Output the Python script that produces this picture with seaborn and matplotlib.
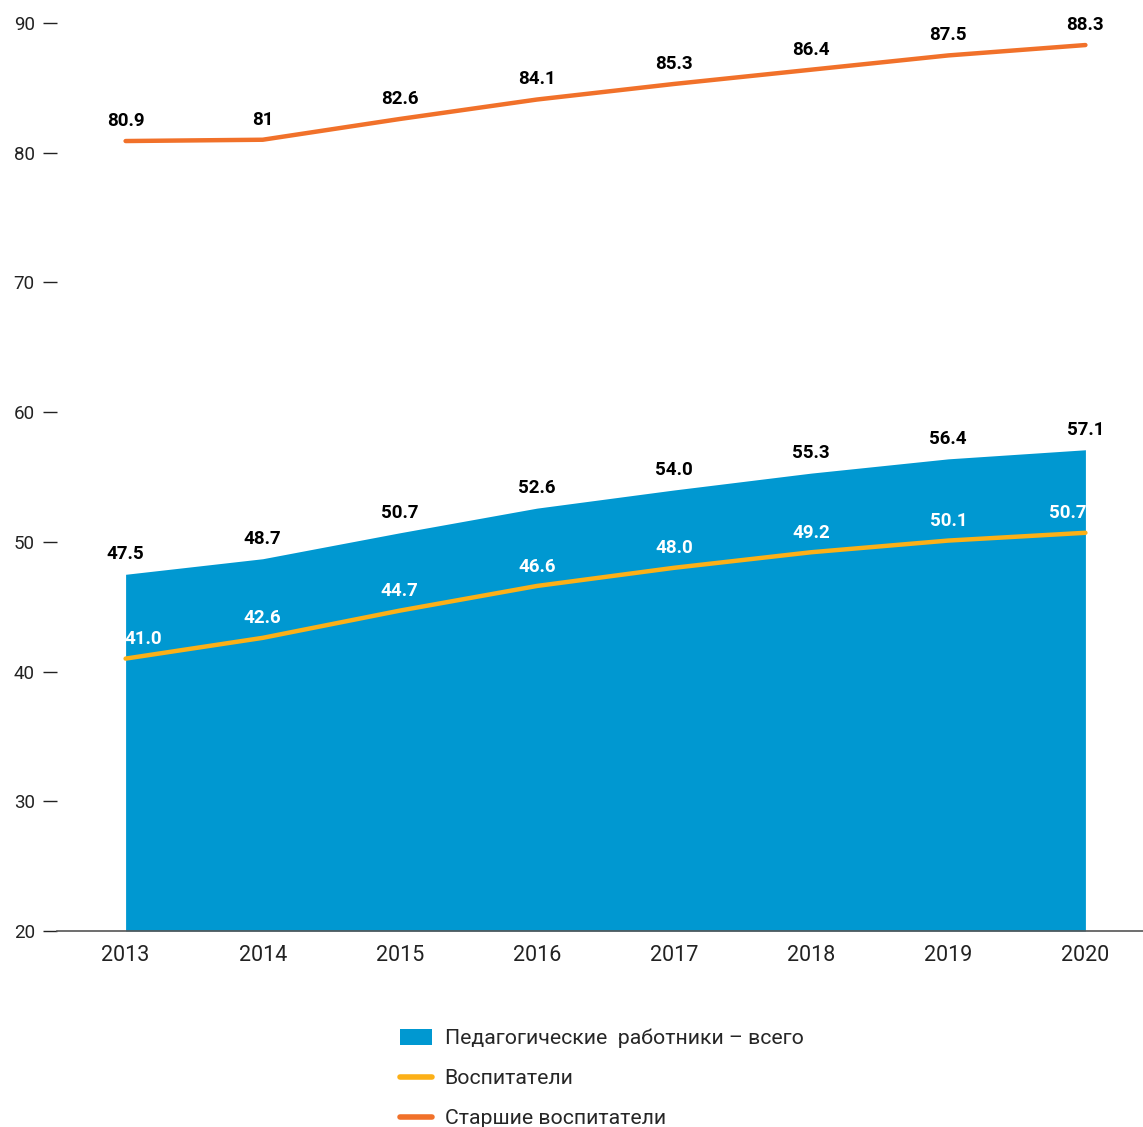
import matplotlib
matplotlib.use("Agg")
import matplotlib.pyplot as plt
import numpy as np
import pandas as pd
import seaborn as sns
from matplotlib.lines import Line2D
from matplotlib.patches import Patch

YEARS = [2013, 2014, 2015, 2016, 2017, 2018, 2019, 2020]
TOTAL = [47.5, 48.7, 50.7, 52.6, 54.0, 55.3, 56.4, 57.1]
EDUCATORS = [41.0, 42.6, 44.7, 46.6, 48.0, 49.2, 50.1, 50.7]
SENIOR = [80.9, 81.0, 82.6, 84.1, 85.3, 86.4, 87.5, 88.3]
SENIOR_LABELS = ["80.9", "81", "82.6", "84.1", "85.3", "86.4", "87.5", "88.3"]

LABEL_TOTAL = "Педагогические  работники – всего"
LABEL_EDU = "Воспитатели"
LABEL_SENIOR = "Старшие воспитатели"

BLUE = "#0098d1"
YELLOW = "#fcb017"
ORANGE = "#f1712a"

sns.set_style("white")
plt.rcParams["font.family"] = ["Roboto", "DejaVu Sans"]

df = pd.DataFrame({"year": YEARS, "total": TOTAL, "edu": EDUCATORS, "senior": SENIOR})

fig = plt.figure(figsize=(11.43, 11.27), dpi=100)
ax = fig.add_axes([0.0499, 0.1739, 0.9501, 0.8057])

ax.set_ylim(20, 90)
ax.set_xlim(2012.5, 2020.42)
floor = ax.get_ylim()[0]

ax.fill_between(df["year"], floor, df["total"], color=BLUE, lw=0, zorder=1)
sns.lineplot(data=df, x="year", y="edu", color=YELLOW, lw=3.2, ax=ax,
             solid_capstyle="round", zorder=3)
sns.lineplot(data=df, x="year", y="senior", color=ORANGE, lw=3.2, ax=ax,
             solid_capstyle="round", zorder=3)

# value labels
for x, v in zip(YEARS, TOTAL):
    ax.annotate(f"{v:.1f}", (x, v), xytext=(0, 8), textcoords="offset points",
                ha="center", va="bottom", fontsize=13.5, fontweight="bold", color="black")
for x, v, s in zip(YEARS, SENIOR, SENIOR_LABELS):
    ax.annotate(s, (x, v), xytext=(0, 8), textcoords="offset points",
                ha="center", va="bottom", fontsize=13.5, fontweight="bold", color="black")
for i, (x, v) in enumerate(zip(YEARS, EDUCATORS)):
    dx = 0
    if i == 0:
        dx = 13
    elif i == len(YEARS) - 1:
        dx = -13
    ax.annotate(f"{v:.1f}", (x, v), xytext=(dx, 7.5), textcoords="offset points",
                ha="center", va="bottom", fontsize=13.5, fontweight="bold", color="white",
                zorder=4)

ax.set_xticks(YEARS)
ax.set_xticklabels([str(y) for y in YEARS])
ax.set_yticks(np.arange(20, 91, 10))
ax.tick_params(axis="x", bottom=False, length=0, labelsize=15.5, pad=10,
               colors="#222222")
ax.tick_params(axis="y", left=True, length=10, width=1, direction="out", pad=6,
               labelsize=13.5, colors="#222222")
ax.set_xlabel("")
ax.set_ylabel("")
for side in ["top", "right", "left"]:
    ax.spines[side].set_visible(False)
ax.spines["bottom"].set_color("#555555")
ax.spines["bottom"].set_linewidth(1.2)
ax.spines["bottom"].set_zorder(5)

handles = [
    Patch(facecolor=BLUE, edgecolor="none"),
    Line2D([0], [0], color=YELLOW, lw=4, solid_capstyle="round"),
    Line2D([0], [0], color=ORANGE, lw=4, solid_capstyle="round"),
]
fig.legend(handles, [LABEL_TOTAL, LABEL_EDU, LABEL_SENIOR],
           loc="upper left", bbox_to_anchor=(0.350, 0.087), frameon=False,
           fontsize=15.3, handlelength=1.5, handleheight=0.8, handletextpad=0.6,
           labelspacing=0.96, borderpad=0, borderaxespad=0)

fig.savefig("out.png", dpi=100)
